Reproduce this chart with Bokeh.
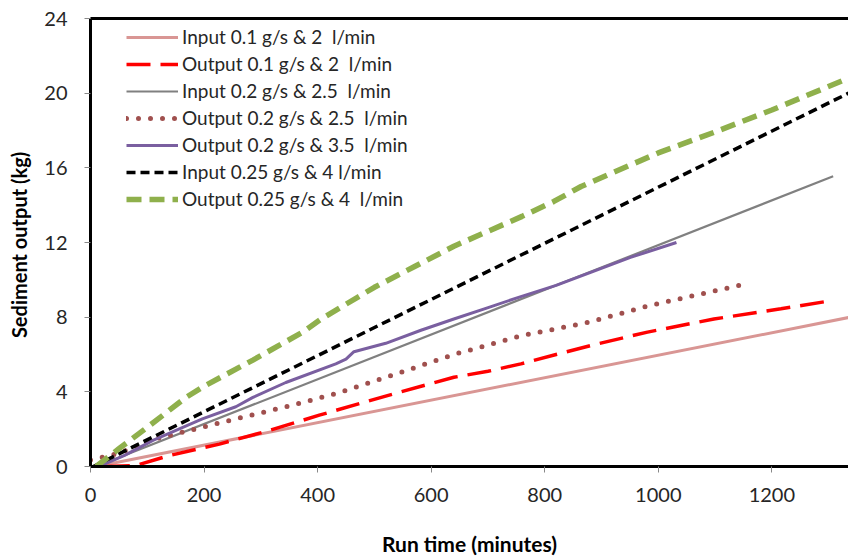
from bokeh.plotting import figure
from bokeh.models import Range1d, LinearAxis, Legend, LegendItem, FixedTicker
from bokeh.embed import file_html
from bokeh.resources import INLINE

# ---- data ----
in01_t = [10, 1335]
in01_v = [0.0, 7.98]

out01_t = [27, 80, 139, 227, 315, 403, 523, 640, 700, 758, 820, 881, 981, 1098, 1216, 1308]
out01_v = [0.0, 0.05, 0.59, 1.2, 1.93, 2.75, 3.8, 4.78, 5.1, 5.5, 6.0, 6.48, 7.2, 7.9, 8.45, 8.9]

in02_t = [10, 1308]
in02_v = [0.0, 15.55]

out02_t = [0, 50, 110, 197, 256, 344, 432, 523, 640, 758, 881, 981, 1040, 1098, 1150]
out02_v = [0.35, 0.7, 1.45, 2.1, 2.55, 3.2, 3.9, 4.8, 6.0, 7.0, 7.75, 8.6, 9.0, 9.4, 9.75]

out02b_t = [15, 60, 110, 197, 256, 286, 344, 432, 450, 464, 520, 582, 640, 699, 758, 820, 881, 951, 1032]
out02b_v = [0.0, 0.6, 1.4, 2.55, 3.2, 3.7, 4.5, 5.5, 5.75, 6.15, 6.6, 7.3, 7.9, 8.5, 9.1, 9.7, 10.4, 11.2, 12.0]

in025_t = [5, 1335]
in025_v = [0.0, 20.0]

out025_t = [10, 50, 100, 168, 200, 286, 374, 406, 500, 570, 640, 700, 760, 816, 864, 1000, 1098, 1200, 1335]
out025_v = [0.0, 0.95, 2.1, 3.7, 4.3, 5.7, 7.2, 7.9, 9.6, 10.7, 11.8, 12.6, 13.4, 14.2, 15.0, 16.8, 17.9, 19.1, 20.8]

x_ticks = [0, 200, 400, 600, 800, 1000, 1200]
y_ticks = [0, 4, 8, 12, 16, 20, 24]

labels = [
    "Input 0.1 g/s & 2  l/min",
    "Output 0.1 g/s & 2  l/min",
    "Input 0.2 g/s & 2.5  l/min",
    "Output 0.2 g/s & 2.5  l/min",
    "Output 0.2 g/s & 3.5  l/min",
    "Input 0.25 g/s & 4 l/min",
    "Output 0.25 g/s & 4  l/min",
]

FONT = "Lato"

p = figure(width=848, height=560, frame_width=758, frame_height=448,
           output_backend="svg", toolbar_location=None,
           x_range=Range1d(0, 1335), y_range=Range1d(0, 24),
           min_border_left=90, min_border_right=0, min_border_top=18, min_border_bottom=94)
p.outline_line_color = None
p.xgrid.visible = False
p.ygrid.visible = False
p.background_fill_color = "white"

for ax, ticks in ((p.xaxis[0], x_ticks), (p.yaxis[0], y_ticks)):
    ax.ticker = FixedTicker(ticks=ticks)
    ax.minor_tick_line_color = None
    ax.major_tick_in = 0
    ax.major_tick_out = 6
    ax.major_tick_line_color = "#888888"
    ax.axis_line_color = "black"
    ax.axis_line_width = 3
    ax.major_label_text_font = FONT
    ax.major_label_text_font_size = "20px"
    ax.major_label_text_color = "#262626"
    ax.axis_label_text_font = FONT
    ax.axis_label_text_font_style = "bold"
    ax.axis_label_text_color = "black"

p.xaxis[0].axis_label = "Run time (minutes)"
p.xaxis[0].axis_label_text_font_size = "21px"
p.xaxis[0].major_label_standoff = 15
p.xaxis[0].axis_label_standoff = 26
p.yaxis[0].axis_label = "Sediment output  (kg)"
p.yaxis[0].axis_label_text_font_size = "20px"
p.yaxis[0].major_label_standoff = 17
p.yaxis[0].axis_label_standoff = 10

top = LinearAxis(ticker=FixedTicker(ticks=[]), major_label_text_font_size="0px",
                 axis_line_width=3, axis_line_color="black",
                 major_tick_line_color=None, minor_tick_line_color=None)
p.add_layout(top, "above")

r1 = p.line(in01_t, in01_v, line_color="#D99694", line_width=3)
r2 = p.line(out01_t, out01_v, line_color="#FF0000", line_width=3.5, line_dash="24 10")
r3 = p.line(in02_t, in02_v, line_color="#808080", line_width=2.2)
r4 = p.line(out02_t, out02_v, line_color="#A0504E", line_width=5, line_dash="0 12", line_cap="round")
r5 = p.line(out02b_t, out02b_v, line_color="#7A5FA0", line_width=3)
r6 = p.line(in025_t, in025_v, line_color="black", line_width=3.5, line_dash="9 5")
r7 = p.line(out025_t, out025_v, line_color="#8FB04C", line_width=5.5, line_dash="15 8")

legend = Legend(items=[LegendItem(label=l, renderers=[r]) for l, r in
                       zip(labels, [r1, r2, r3, r4, r5, r6, r7])],
                location=(36, 256), orientation="vertical",
                glyph_width=52, glyph_height=20, label_height=20,
                label_standoff=4, spacing=4, padding=0, margin=0,
                border_line_color=None, background_fill_alpha=0,
                label_text_font=FONT, label_text_font_size="19px", label_text_color="#262626")
p.add_layout(legend)

open("out.html", "w").write(file_html(p, INLINE))
